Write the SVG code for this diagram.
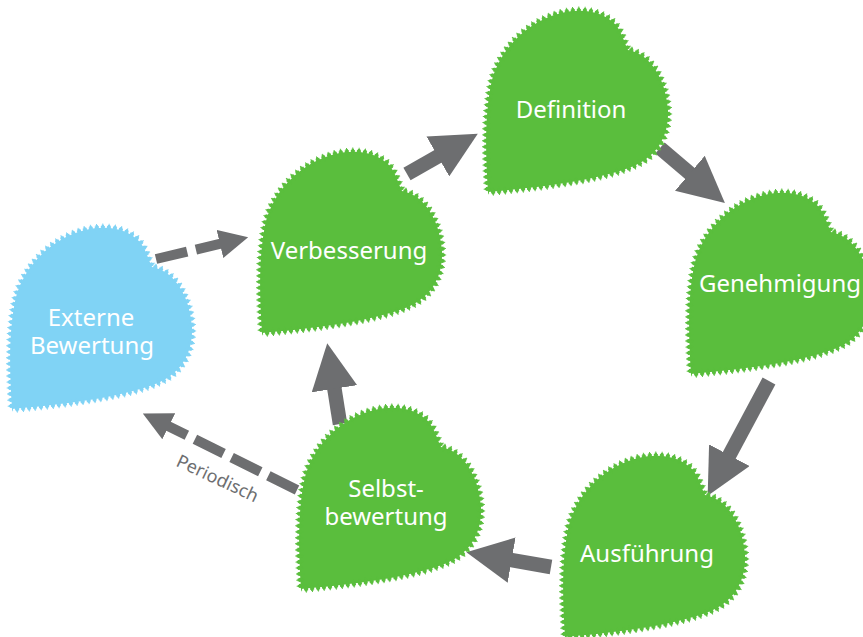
<svg xmlns="http://www.w3.org/2000/svg" xmlns:xlink="http://www.w3.org/1999/xlink" width="863" height="637" viewBox="0 0 863 637">
  <style>
    .green { color: #5abe3d; }
    .blue { color: #80d3f5; }
    .body { fill: currentColor; stroke: none; }
    /* three stacked dash rings build small pointed teeth along the margin */
    .t1 { fill: none; stroke: currentColor; stroke-width: 3.6; stroke-dasharray: 4 2; stroke-dashoffset: -1; }
    .t2 { fill: none; stroke: currentColor; stroke-width: 5.8; stroke-dasharray: 2.4 3.6; stroke-dashoffset: -1.8; }
    .t3 { fill: none; stroke: currentColor; stroke-width: 8.2; stroke-dasharray: 1 5; stroke-dashoffset: -2.5; }
    .label { font-family: "Noto Sans", "Open Sans", "DejaVu Sans", sans-serif; font-size: 24px; fill: #ffffff; text-anchor: middle; }
    .conn { fill: none; stroke: #6d6e70; }
    .solid { stroke-width: 14.5; marker-end: url(#head); }
    .dashed { stroke-width: 10; stroke-dasharray: 32 9; marker-end: url(#headSmall); }
    .note { font-family: "Noto Sans", "Open Sans", "DejaVu Sans", sans-serif; font-size: 18px; fill: #6d6e70; text-anchor: middle; }
  </style>
  <defs>
    <!-- heart-shaped leaf, tip bottom-left, stem notch top-right -->
    <path id="leafOutline" d="M2,182 C-1,140 -1,100 6,70 C14,40 40,12 75,3 C100,-3 122,3 132,18 C137,26 139,34 142,40 C165,44 180,70 182,100 C183,125 172,145 150,155 C120,168 70,176 2,182 Z"/>
    <g id="leaf">
      <use xlink:href="#leafOutline" href="#leafOutline" class="body"/>
      <use xlink:href="#leafOutline" href="#leafOutline" class="t1"/>
      <use xlink:href="#leafOutline" href="#leafOutline" class="t2"/>
      <use xlink:href="#leafOutline" href="#leafOutline" class="t3"/>
    </g>
    <marker id="head" viewBox="0 0 10 10" markerWidth="3.17" markerHeight="3.17" refX="0.3" refY="5" orient="auto">
      <path d="M0,0 L10,5 L0,10 Z" fill="#6d6e70"/>
    </marker>
    <marker id="headSmall" viewBox="0 0 10 10" markerWidth="2.9" markerHeight="2.9" refX="0.3" refY="5" orient="auto">
      <path d="M0,0 L10,5 L0,10 Z" fill="#6d6e70"/>
    </marker>
  </defs>

  <g id="connectors">
    <line class="conn solid" x1="407" y1="174" x2="439.05" y2="155.75"/>
    <line class="conn solid" x1="660" y1="148" x2="690.9" y2="174.2"/>
    <line class="conn solid" x1="769" y1="381" x2="728.7" y2="456.4"/>
    <line class="conn solid" x1="551" y1="567" x2="510.3" y2="559.9"/>
    <line class="conn solid" x1="340" y1="424" x2="334.2" y2="387.4"/>
    <line class="conn dashed" x1="156" y1="259" x2="220.8" y2="243.7"/>
    <line class="conn dashed" x1="297" y1="490" x2="168" y2="425.9"/>
    <text class="note" x="215" y="484" transform="rotate(25 215 484)">Periodisch</text>
  </g>

  <g id="externe-bewertung">
    <use xlink:href="#leaf" href="#leaf" class="blue" x="10" y="227"/>
    <text class="label" x="91" y="326">Externe</text>
    <text class="label" x="92" y="354">Bewertung</text>
  </g>

  <g id="verbesserung">
    <use xlink:href="#leaf" href="#leaf" class="green" x="260" y="151"/>
    <text class="label" x="349" y="259">Verbesserung</text>
  </g>

  <g id="definition">
    <use xlink:href="#leaf" href="#leaf" class="green" x="486" y="10"/>
    <text class="label" x="571" y="118">Definition</text>
  </g>

  <g id="genehmigung">
    <use xlink:href="#leaf" href="#leaf" class="green" x="689" y="192"/>
    <text class="label" x="780" y="292">Genehmigung</text>
  </g>

  <g id="ausfuehrung">
    <use xlink:href="#leaf" href="#leaf" class="green" x="563" y="455"/>
    <text class="label" x="647" y="562">Ausführung</text>
  </g>

  <g id="selbstbewertung">
    <use xlink:href="#leaf" href="#leaf" class="green" x="299" y="407"/>
    <text class="label" x="386" y="497">Selbst-</text>
    <text class="label" x="386" y="525">bewertung</text>
  </g>
</svg>
